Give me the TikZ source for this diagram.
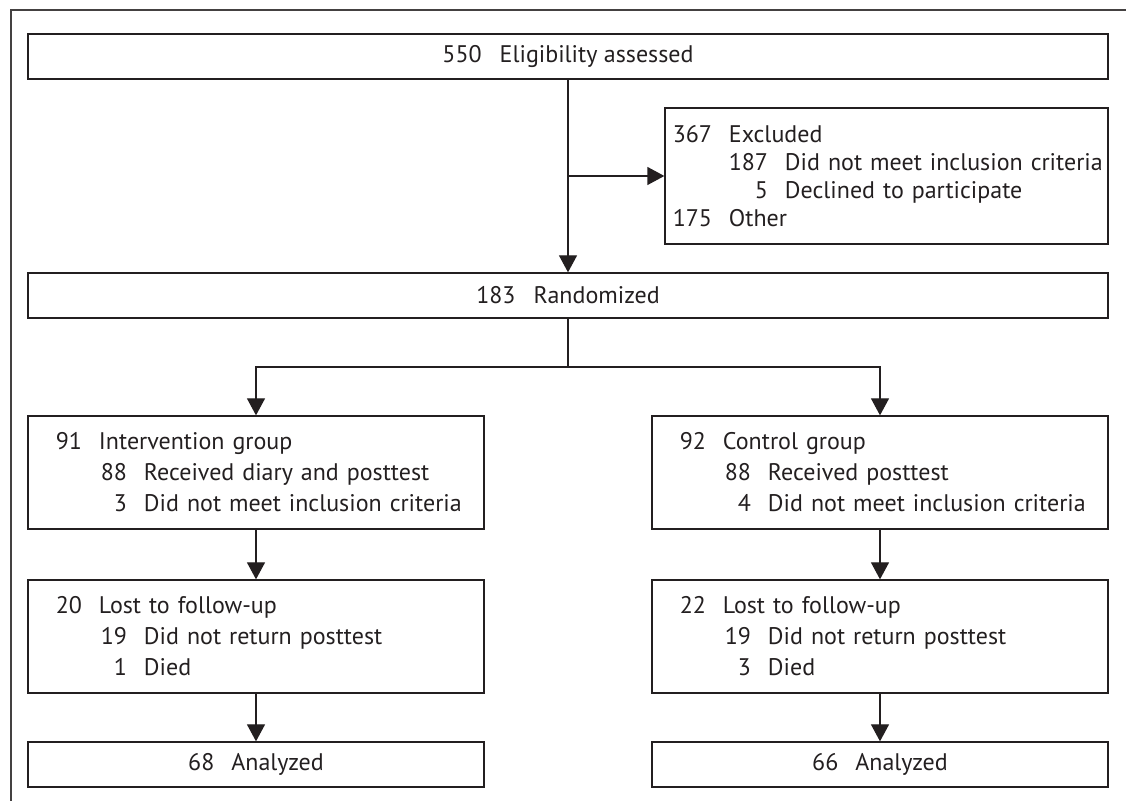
\documentclass[tikz,border=0pt]{standalone}
\usepackage{fontspec}
\setmainfont{PT Sans}
\usetikzlibrary{arrows.meta,positioning}
\definecolor{ink}{RGB}{35,31,32}
\newcommand{\entry}[3]{\makebox[#1][r]{#2}\hspace{8.5pt}#3}

\begin{document}
\begin{tikzpicture}[x=0.5pt,y=-0.5pt]
\tikzstyle{box}=[draw=ink,line width=0.65pt,rectangle,inner sep=0pt,text=ink,font=\fontsize{12}{15.5}\selectfont]
\tikzstyle{widebox}=[box,minimum width=540pt,minimum height=22.5pt]
\tikzstyle{groupbox}=[box,text width=228pt,align=left,minimum height=56.5pt]
\tikzstyle{endbox}=[box,minimum width=228pt,minimum height=22.5pt]
\tikzstyle{line}=[draw=ink,line width=0.65pt]
\tikzstyle{arrow}=[line,-{Triangle[width=9pt,length=8.5pt]}]
\useasboundingbox (0,0) rectangle (1126,801);
\draw [line,draw=ink!85] (1126,10) -- (11,10) -- (11,801);
\node [widebox] at (568,56.5) (elig) {550\hspace{9pt}Eligibility assessed};
\node [box,text width=221.5pt,align=left,minimum height=68pt,font=\fontsize{12}{14}\selectfont] at (886.5,176) (excl)
  {\entry{23.5pt}{367}{Excluded}\\
   \entry{51.5pt}{187}{Did not meet inclusion criteria}\\
   \entry{51.5pt}{5}{Declined to participate}\\
   \entry{23.5pt}{175}{Other}};
\node [widebox] at (568,295.5) (rand) {183\hspace{9pt}Randomized};
\node [groupbox] at (256,472.5) (int)
  {\entry{27pt}{91}{Intervention group}\\
   \entry{49.5pt}{88}{Received diary and posttest}\\
   \entry{49.5pt}{3}{Did not meet inclusion criteria}};
\node [groupbox] at (880,472.5) (ctrl)
  {\entry{27pt}{92}{Control group}\\
   \entry{49.5pt}{88}{Received posttest}\\
   \entry{49.5pt}{4}{Did not meet inclusion criteria}};
\node [groupbox] at (256,636.5) (lostint)
  {\entry{27pt}{20}{Lost to follow-up}\\
   \entry{49.5pt}{19}{Did not return posttest}\\
   \entry{49.5pt}{1}{Died}};
\node [groupbox] at (880,636.5) (lostctrl)
  {\entry{27pt}{22}{Lost to follow-up}\\
   \entry{49.5pt}{19}{Did not return posttest}\\
   \entry{49.5pt}{3}{Died}};
\node [endbox] at (256,764.5) (anaint) {68\hspace{8.5pt}Analyzed};
\node [endbox] at (880,764.5) (anactrl) {66\hspace{8.5pt}Analyzed};
% flow
\coordinate (branch) at (elig.south |- excl.west);
\coordinate (split) at (568,367);
\draw [arrow] (elig) -- (rand);
\draw [arrow] (branch) -- (excl.west);
\draw [line] (rand) -- (split);
\draw [arrow] (split) -| (int);
\draw [arrow] (split) -| (ctrl);
\draw [arrow] (int) -- (lostint);
\draw [arrow] (ctrl) -- (lostctrl);
\draw [arrow] (lostint) -- (anaint);
\draw [arrow] (lostctrl) -- (anactrl);
\end{tikzpicture}
\end{document}
